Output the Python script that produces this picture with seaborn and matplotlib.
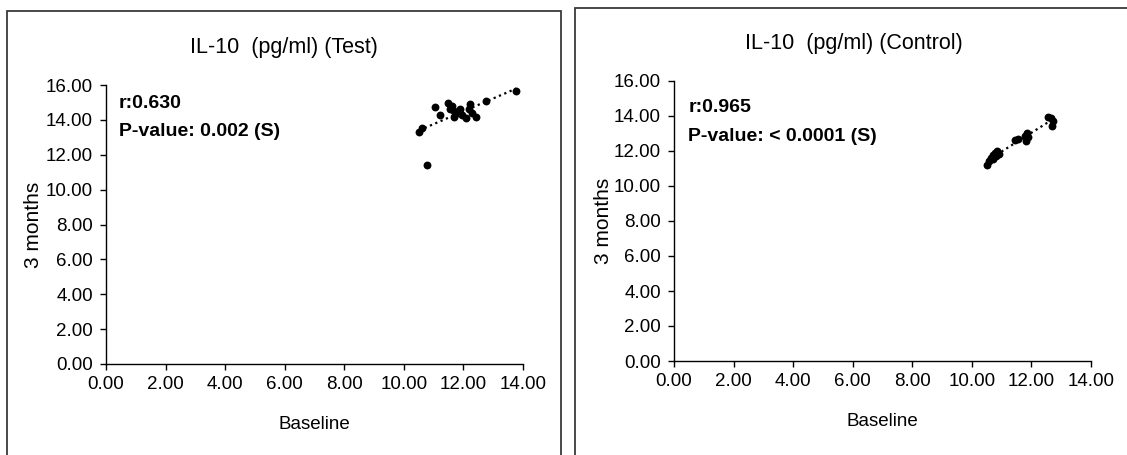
import matplotlib
matplotlib.use("Agg")
import matplotlib.pyplot as plt
from matplotlib.patches import Rectangle
import seaborn as sns
import pandas as pd

# IL-10 (pg/ml): baseline vs 3 months, test group
test_baseline = [10.52, 10.62, 10.78, 11.05, 11.20, 11.48, 11.55, 11.62, 11.70, 11.68,
                 11.80, 11.90, 11.95, 12.10, 12.18, 12.22, 12.30, 12.42, 12.75, 13.78]
test_3m = [13.28, 13.55, 11.42, 14.75, 14.30, 14.95, 14.65, 14.82, 14.50, 14.15,
           14.40, 14.62, 14.28, 14.10, 14.65, 14.90, 14.38, 14.18, 15.10, 15.65]

# IL-10 (pg/ml): baseline vs 3 months, control group
ctrl_baseline = [10.50, 10.58, 10.65, 10.70, 10.72, 10.78, 10.80, 10.85, 10.88, 10.92,
                 11.45, 11.55, 11.78, 11.82, 11.85, 11.90, 12.55, 12.65, 12.70, 12.72]
ctrl_3m = [11.20, 11.45, 11.60, 11.75, 11.55, 11.90, 11.70, 12.00, 11.80, 11.85,
           12.65, 12.70, 12.85, 12.55, 13.00, 12.80, 13.95, 13.90, 13.45, 13.70]

titles = ["IL-10  (pg/ml) (Test)", "IL-10  (pg/ml) (Control)"]
r_labels = ["r:0.630", "r:0.965"]
p_labels = ["P-value: 0.002 (S)", "P-value: < 0.0001 (S)"]
x_label = "Baseline"
y_label = "3 months"
axis_ticks = [0, 2, 4, 6, 8, 10, 12, 14, 16]

sns.set_theme(style="white")
plt.rcParams["font.family"] = ["Liberation Sans", "DejaVu Sans"]

W, H = 1127, 455
fig = plt.figure(figsize=(W / 100, H / 100), dpi=100)

# panel frames (pixels: left, top, right, bottom)
frames = [(7, 11, 561, 470), (575, 8, 1140, 470)]
# axes boxes (pixels: x0, x14, y0, y16)
boxes = [(106, 523, 364, 85), (674, 1091, 361, 81)]
title_x = [284, 854]
title_y = [47, 43]
ylabel_x = [-0.152, -0.146]
text_pos = [(0.031, 0.935, 0.832), (0.034, 0.904, 0.800)]

datasets = [
    pd.DataFrame({"Baseline": test_baseline, "3 months": test_3m}),
    pd.DataFrame({"Baseline": ctrl_baseline, "3 months": ctrl_3m}),
]

for i, df in enumerate(datasets):
    fl, ft, fr, fb = frames[i]
    fig.patches.append(Rectangle((fl / W, 1 - fb / H), (fr - fl) / W, (fb - ft) / H,
                                 transform=fig.transFigure, fill=False,
                                 edgecolor="#3a3a3a", linewidth=1.3))
    x0, x14, y0, y16 = boxes[i]
    ax = fig.add_axes([x0 / W, 1 - y0 / H, (x14 - x0) / W, (y0 - y16) / H])
    ax.set_facecolor("none")
    sns.regplot(data=df, x="Baseline", y="3 months", ax=ax, ci=None, truncate=True,
                scatter_kws=dict(color="black", s=32, linewidths=0, alpha=1),
                line_kws=dict(color="black", linestyle=(0, (1, 1.6)), linewidth=1.6))
    ax.set_xlim(0, 14)
    ax.set_ylim(0, 16)
    ax.set_xticks(axis_ticks[:-1])
    ax.set_yticks(axis_ticks)
    ax.set_xticklabels([f"{v:.2f}" for v in axis_ticks[:-1]])
    ax.set_yticklabels([f"{v:.2f}" for v in axis_ticks])
    for side in ("top", "right"):
        ax.spines[side].set_visible(False)
    for side in ("left", "bottom"):
        ax.spines[side].set_color("black")
        ax.spines[side].set_linewidth(1.0)
    ax.tick_params(axis="both", direction="out", length=4.5, width=1.0, color="black",
                   labelsize=13.5, labelcolor="black", left=True, bottom=True)
    ax.tick_params(axis="y", pad=5)
    ax.tick_params(axis="x", pad=4)
    ax.set_xlabel(x_label, fontsize=13.5, color="black", labelpad=17)
    ax.set_ylabel(y_label, fontsize=15, color="black")
    ax.yaxis.set_label_coords(ylabel_x[i], 0.5)
    tx, ty1, ty2 = text_pos[i]
    ax.text(tx, ty1, r_labels[i], transform=ax.transAxes, fontsize=14,
            fontweight="bold", va="center", ha="left", color="black")
    ax.text(tx, ty2, p_labels[i], transform=ax.transAxes, fontsize=14,
            fontweight="bold", va="center", ha="left", color="black")
    fig.text(title_x[i] / W, 1 - title_y[i] / H, titles[i],
             ha="center", va="center", fontsize=15.5, color="black")

fig.savefig("out.png", dpi=100, facecolor="white")
